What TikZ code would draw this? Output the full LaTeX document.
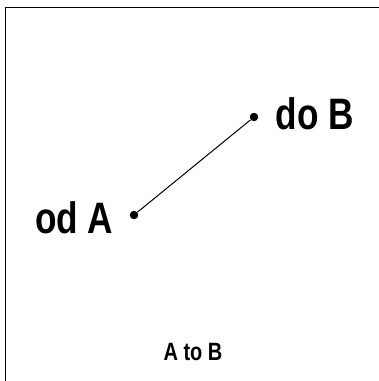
\documentclass[tikz,border=0pt]{standalone}
\usepackage{fontspec}
\setmainfont{Liberation Sans}[FakeStretch=0.8]
\usetikzlibrary{positioning}
\tikzset{
  dot/.style={circle, fill=black, inner sep=0pt, minimum size=8.5pt},
  biglbl/.style={font=\fontsize{44}{44}\selectfont\bfseries, inner sep=0pt},
  caption/.style={font=\fontsize{25}{25}\selectfont\bfseries, inner sep=0pt},
  link/.style={line width=1pt}
}
\begin{document}
\begin{tikzpicture}[x=1pt,y=-1pt]
    \useasboundingbox (0,0) rectangle (379,381);
    \draw[line width=1.2pt] (5.5,7.5) rectangle (385,390);
    \node[dot] (a) at (134,215) {};
    \node[dot] (b) at (254,117) {};
    \draw[link] (a) -- (b);
    \node[biglbl, left=16pt of a, yshift=-3pt] (from) {od A};
    \node[biglbl, right=17pt of b, yshift=3pt] (to) {do B};
    \node[caption] (title) at (193,352) {A to B};
  \end{tikzpicture}
\end{document}
